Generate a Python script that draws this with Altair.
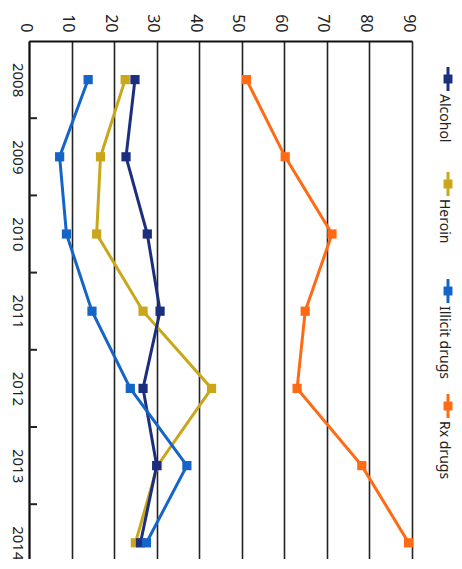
import altair as alt
import pandas as pd

# ---- data ----
years = [2008, 2009, 2010, 2011, 2012, 2013, 2014]
series_names = ["Alcohol", "Heroin", "Illicit drugs", "Rx drugs"]
alcohol = [24.9, 22.8, 27.8, 30.8, 26.8, 30.0, 26.2]
heroin = [22.6, 16.8, 15.9, 26.8, 42.9, 30.2, 25.0]
illicit = [13.9, 7.2, 8.8, 14.8, 23.8, 37.1, 27.6]
rx = [51.1, 60.2, 71.2, 64.9, 63.0, 78.2, 89.2]
value_ticks = [0, 10, 20, 30, 40, 50, 60, 70, 80, 90]
year_boundaries = [2008.5, 2009.5, 2010.5, 2011.5, 2012.5, 2013.5]

colors = ["#1b2f7e", "#c9a61a", "#1565c8", "#ff6a14"]

rows = []
for name, vals in zip(series_names, [alcohol, heroin, illicit, rx]):
    for yr, v in zip(years, vals):
        rows.append({"Year": yr, "Value": v, "Series": name})
df = pd.DataFrame(rows)

# ---- layout ----
W, H = 383, 518
STEP = 77.2
FONT = "Noto Sans"

xscale = alt.Scale(domain=[0, 90], nice=False, zero=True)
yscale = alt.Scale(domain=[2007.5, 2007.5 + H / STEP], nice=False, zero=False, reverse=True)
color = alt.Color("Series:N", scale=alt.Scale(domain=series_names, range=colors), legend=None)

xaxis = alt.Axis(orient="top", values=value_ticks, grid=True, ticks=False,
                 labelAngle=90, labelAlign="right", labelBaseline="middle",
                 labelOffset=-4, labelPadding=9, labelFontSize=16,
                 labelFont=FONT, labelColor="#222")
yaxis = alt.Axis(values=years, format="d", ticks=False, grid=False,
                 labelAngle=90, labelAlign="center", labelBaseline="middle",
                 labelPadding=12, labelFontSize=15, labelFont=FONT, labelColor="#222")

base = alt.Chart(df).encode(
    x=alt.X("Value:Q", scale=xscale, axis=xaxis, title=None),
    y=alt.Y("Year:Q", scale=yscale, axis=yaxis, title=None),
    color=color,
    order=alt.Order("Year:Q"),
)

layers = []
for name in ["Heroin", "Alcohol", "Illicit drugs", "Rx drugs"]:
    sub = base.transform_filter(alt.datum.Series == name)
    layers.append(sub.mark_line(strokeWidth=3))
    layers.append(sub.mark_square(size=85, opacity=1))

ticks = alt.Chart(pd.DataFrame({"pos": year_boundaries})).mark_rule(
    color="#222", strokeWidth=2
).encode(
    y=alt.Y("pos:Q", scale=yscale, title=None),
    x=alt.value(0), x2=alt.value(8),
)

# legend (rotated like the chart)
legend_marker_y = [38, 143, 250, 365]
legend_layers = []
for name, col, ym in zip(series_names, colors, legend_marker_y):
    ldf = pd.DataFrame({"Series": [name]})
    legend_layers.append(
        alt.Chart(ldf).mark_rule(color=col, strokeWidth=3).encode(
            x=alt.value(419), y=alt.value(ym - 12), y2=alt.value(ym + 12)))
    legend_layers.append(
        alt.Chart(ldf).mark_square(color=col, size=80, opacity=1).encode(
            x=alt.value(419), y=alt.value(ym)))
    legend_layers.append(
        alt.Chart(ldf).mark_text(angle=90, align="left", baseline="middle",
                                 fontSize=14, font=FONT, color="#222").encode(
            x=alt.value(415), y=alt.value(ym + 15), text="Series:N"))

chart = alt.layer(*layers, ticks, *legend_layers).properties(
    width=W, height=H,
    autosize=alt.AutoSizeParams(type="none"),
    padding={"left": 21, "top": 33, "right": 42, "bottom": 0},
).configure_view(strokeWidth=0).configure_axis(
    domainColor="#111", domainWidth=2, gridColor="#222", gridWidth=1.6
)

chart.save("out.html", embed_options={"renderer": "svg", "actions": False})
